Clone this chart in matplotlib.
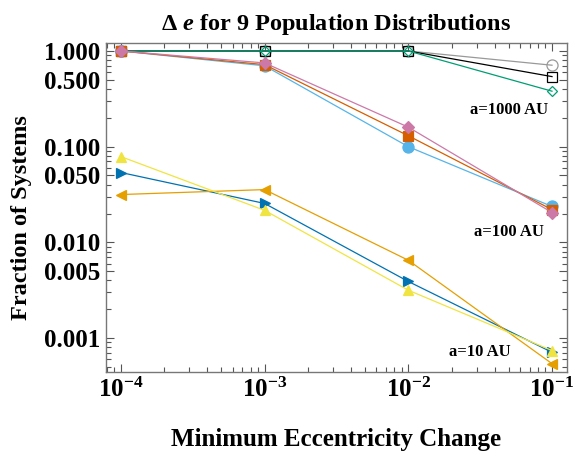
import matplotlib
matplotlib.use("Agg")
import matplotlib.pyplot as plt
from matplotlib.ticker import FixedLocator, NullFormatter, LogLocator

plt.rcParams["font.family"] = ["Liberation Serif", "DejaVu Serif"]
plt.rcParams["font.weight"] = "bold"
plt.rcParams["mathtext.fontset"] = "custom"
plt.rcParams["mathtext.rm"] = "Liberation Serif:bold"
plt.rcParams["mathtext.bf"] = "Liberation Serif:bold"
plt.rcParams["mathtext.it"] = "Liberation Serif:bold:italic"

# minimum eccentricity change thresholds
de = [1e-4, 1e-3, 1e-2, 1e-1]

# a = 1000 AU (open markers)
frac_1000_circle = [1.0, 1.0, 1.0, 0.71]
frac_1000_square = [1.0, 1.0, 1.0, 0.54]
frac_1000_diamond = [1.0, 1.0, 1.0, 0.38]

# a = 100 AU (filled markers)
frac_100_circle = [1.0, 0.70, 0.100, 0.0237]
frac_100_square = [1.0, 0.72, 0.130, 0.0220]
frac_100_diamond = [1.0, 0.75, 0.160, 0.0205]

# a = 10 AU (triangles)
frac_10_right = [0.0537, 0.0255, 0.0039, 0.00071]
frac_10_left = [0.0316, 0.0356, 0.0065, 0.00054]
frac_10_up = [0.0787, 0.0216, 0.00316, 0.00074]

ytick_vals = [1.0, 0.5, 0.1, 0.05, 0.01, 0.005, 0.001]
ytick_labels = ["1.000", "0.500", "0.100", "0.050", "0.010", "0.005", "0.001"]
xtick_vals = [1e-4, 1e-3, 1e-2, 1e-1]
xtick_labels = [r"$\mathbf{10^{-4}}$", r"$\mathbf{10^{-3}}$",
                r"$\mathbf{10^{-2}}$", r"$\mathbf{10^{-1}}$"]

fig = plt.figure(figsize=(5.75, 4.53), dpi=100)
ax = fig.add_axes([0.1843, 0.1788, 0.8017, 0.7263])

lw = 0.9
series = [
    (frac_1000_circle, "#999999", "o", "none", 8),
    (frac_1000_square, "#000000", "s", "none", 7),
    (frac_1000_diamond, "#009E73", "D", "none", 5.5),
    (frac_100_circle, "#56B4E9", "o", "#56B4E9", 8),
    (frac_100_square, "#D55E00", "s", "#D55E00", 7),
    (frac_100_diamond, "#CC79A7", "D", "#CC79A7", 6),
    (frac_10_right, "#0072B2", ">", "#0072B2", 7.5),
    (frac_10_left, "#E69F00", "<", "#E69F00", 7.5),
    (frac_10_up, "#F0E442", "^", "#F0E442", 7.5),
]
for vals, col, mk, fc, size in series:
    ax.plot(de, vals, color=col, lw=lw, marker=mk, markersize=size,
            markerfacecolor=fc, markeredgecolor=col, markeredgewidth=0.9)

ax.set_xscale("log")
ax.set_yscale("log")
ax.set_xlim(10 ** -4.104, 10 ** -0.896)
ax.set_ylim(10 ** -3.355, 10 ** 0.0836)

ax.xaxis.set_major_locator(FixedLocator(xtick_vals))
ax.set_xticklabels(xtick_labels, fontsize=18)
ax.xaxis.set_minor_locator(LogLocator(base=10, subs=range(2, 10)))
ax.xaxis.set_minor_formatter(NullFormatter())

ax.yaxis.set_major_locator(FixedLocator(ytick_vals))
ax.set_yticklabels(ytick_labels, fontsize=18, fontweight="bold")
ax.yaxis.set_minor_locator(LogLocator(base=10, subs=range(2, 10)))
ax.yaxis.set_minor_formatter(NullFormatter())

for sp in ax.spines.values():
    sp.set_color("#777777")
    sp.set_linewidth(1.0)
ax.tick_params(which="both", direction="in", top=True, right=True,
               color="#555555", width=0.8)
ax.tick_params(which="major", length=6, pad=4)
ax.tick_params(which="minor", length=3.5)

ax.text(0.05, 0.243, "a=1000 AU", fontsize=12, fontweight="bold",
        ha="center", va="center")
ax.text(0.05, 0.0127, "a=100 AU", fontsize=12, fontweight="bold",
        ha="center", va="center")
ax.text(0.0314, 0.000715, "a=10 AU", fontsize=12, fontweight="bold",
        ha="center", va="center")

ax.set_xlabel("Minimum Eccentricity Change", fontsize=18, fontweight="bold",
              labelpad=19)
ax.set_ylabel("Fraction of Systems", fontsize=17.5, fontweight="bold")
ax.yaxis.set_label_coords(-0.16, 0.47)
ax.set_title(r"$\Delta$ $\mathit{e}$ for 9 Population Distributions",
             fontsize=17.5, fontweight="bold", pad=9)

fig.savefig("out.png", dpi=100)
